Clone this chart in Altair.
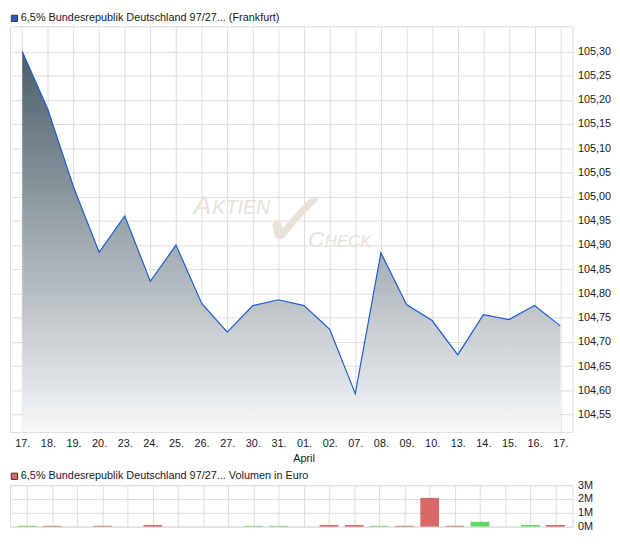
import altair as alt
import pandas as pd

# ---------------- data ----------------
dates = ["17.", "18.", "19.", "20.", "23.", "24.", "25.", "26.", "27.", "30.", "31.",
         "01.", "02.", "07.", "08.", "09.", "10.", "13.", "14.", "15.", "16.", "17."]
prices = [105.30, 105.18, 105.02, 104.885, 104.96, 104.825, 104.90, 104.78, 104.72, 104.775, 104.787,
          104.775, 104.726, 104.593, 104.884, 104.777, 104.744, 104.673, 104.756, 104.746, 104.775, 104.733]
volumes = [60000, 60000, 0, 60000, 0, 120000, 0, 0, 0, 60000, 60000,
           0, 120000, 120000, 60000, 60000, 2080000, 60000, 350000, 0, 120000, 120000]
directions = ["up", "down", "none", "down", "none", "down", "none", "none", "none", "up", "up",
              "none", "down", "down", "up", "down", "down", "down", "up", "none", "up", "down"]
y_ticks = [104.55, 104.60, 104.65, 104.70, 104.75, 104.80, 104.85, 104.90,
           104.95, 105.00, 105.05, 105.10, 105.15, 105.20, 105.25, 105.30]
vol_ticks = [0, 1000000, 2000000, 3000000]
month_label = "April"
month_index = 11
price_title = "6,5% Bundesrepublik Deutschland 97/27... (Frankfurt)"
volume_title = "6,5% Bundesrepublik Deutschland 97/27... Volumen in Euro"

# ---------------- styling ----------------
W = 570
H1 = 411
H2 = 42
GRID = "#dcdcdc"
TXT = "#1a1a1a"
FONT = "Liberation Sans"
Y_MIN, Y_MAX = 104.514, 105.352
WM = "#e8e2db"

idx = list(range(len(dates)))
df = pd.DataFrame({"i": idx, "date": dates, "price": prices, "vol": volumes, "dir": directions})
label_arr = "[" + ",".join("'%s'" % d for d in dates) + "]"
x_scale = alt.Scale(domain=[-0.48, len(dates) - 1 + 0.48], nice=False, zero=False)

x_axis = alt.Axis(values=idx, labelExpr=label_arr + "[datum.value]", grid=True,
                  gridColor=GRID, ticks=False, domain=False, labelPadding=6,
                  labelFlush=False, labelOverlap=False, title=None)
y_axis = alt.Axis(orient="right", values=y_ticks,
                  labelExpr="replace(format(datum.value, '.2f'), '.', ',')",
                  grid=True, gridColor=GRID, ticks=False, domain=False,
                  labelPadding=5, labelFlush=False, labelOverlap=False, title=None)
y_scale = alt.Scale(domain=[Y_MIN, Y_MAX], nice=False, zero=False)

base = alt.Chart(df).encode(
    x=alt.X("i:Q", scale=x_scale, axis=x_axis),
    y=alt.Y("price:Q", scale=y_scale, axis=y_axis),
)

gradient = alt.Gradient(
    gradient="linear",
    stops=[alt.GradientStop(color="#4a5d69", offset=0),
           alt.GradientStop(color="#f6f7f8", offset=1)],
    x1=0, x2=0, y1=0, y2=1)

area = base.mark_area(color=gradient).encode(y2=alt.datum(Y_MIN))
line = base.mark_line(color="#1e5ad2", strokeWidth=1.2)

one = pd.DataFrame({"k": [0]})
wm_parts = [
    ("A", 186, 190, 27),
    ("KTIEN", 205, 190, 20),
    ("C", 302, 224, 23),
    ("HECK", 319, 224, 17),
]
wm_layers = []
for txt, x, y, fs in wm_parts:
    wm_layers.append(alt.Chart(one).mark_text(text=txt, font=FONT, fontStyle="italic", fontSize=fs,
                                              color=WM, align="left", baseline="alphabetic")
                     .encode(x=alt.value(x), y=alt.value(y)))
wm_layers.append(alt.Chart(one).mark_text(text="✓", font="DejaVu Sans", fontSize=84, color=WM,
                                          align="center", baseline="middle", angle=6)
                 .encode(x=alt.value(289), y=alt.value(200)))

month = alt.Chart(pd.DataFrame({"i": [month_index], "t": [month_label]})).mark_text(
    font=FONT, fontSize=11, color=TXT, baseline="middle").encode(
    x=alt.X("i:Q", scale=x_scale, axis=x_axis), y=alt.value(H1 + 28), text="t:N")

leg1_sq = alt.Chart(one).mark_square(size=40, fill="#2a5ccc", stroke="#333333", strokeWidth=1,
                                     opacity=1).encode(x=alt.value(4.5), y=alt.value(-8))
leg1_tx = alt.Chart(pd.DataFrame({"t": [price_title]})).mark_text(
    font=FONT, fontSize=11, color=TXT, align="left", baseline="middle").encode(
    x=alt.value(11), y=alt.value(-8), text="t:N")

main = alt.layer(*wm_layers, area, line, month, leg1_sq, leg1_tx).properties(width=W, height=H1)

vol_bars = alt.Chart(df).mark_bar(size=19).encode(
    x=alt.X("i:Q", scale=x_scale,
            axis=alt.Axis(values=idx, labels=False, ticks=False, domain=False, grid=True,
                          gridColor=GRID, title=None)),
    y=alt.Y("vol:Q", scale=alt.Scale(domain=[0, 3000000], nice=False),
            axis=alt.Axis(orient="right", values=vol_ticks,
                          labelExpr="format(datum.value / 1000000, 'd') + 'M'",
                          grid=True, gridColor=GRID, ticks=False, domain=False,
                          labelPadding=5, labelFlush=False, labelOverlap=False, title=None)),
    color=alt.Color("dir:N", scale=alt.Scale(domain=["up", "down", "none"],
                                             range=["#66d866", "#d96868", "#ffffff"]), legend=None))

leg2_sq = alt.Chart(one).mark_square(size=40, fill="#d96868", stroke="#333333", strokeWidth=1,
                                     opacity=1).encode(x=alt.value(4.5), y=alt.value(-9))
leg2_tx = alt.Chart(pd.DataFrame({"t": [volume_title]})).mark_text(
    font=FONT, fontSize=11, color=TXT, align="left", baseline="middle").encode(
    x=alt.value(11), y=alt.value(-9), text="t:N")

vol = alt.layer(vol_bars, leg2_sq, leg2_tx).properties(width=W, height=H2)

chart = alt.vconcat(main, vol, spacing=4).properties(
    padding={"left": 0, "top": 0, "right": 0, "bottom": 0}
).configure(font=FONT).configure_axis(
    labelFont=FONT, labelFontSize=11, labelColor=TXT
).configure_view(stroke=GRID)

chart.save("out.html", embed_options={"renderer": "svg", "actions": False})
